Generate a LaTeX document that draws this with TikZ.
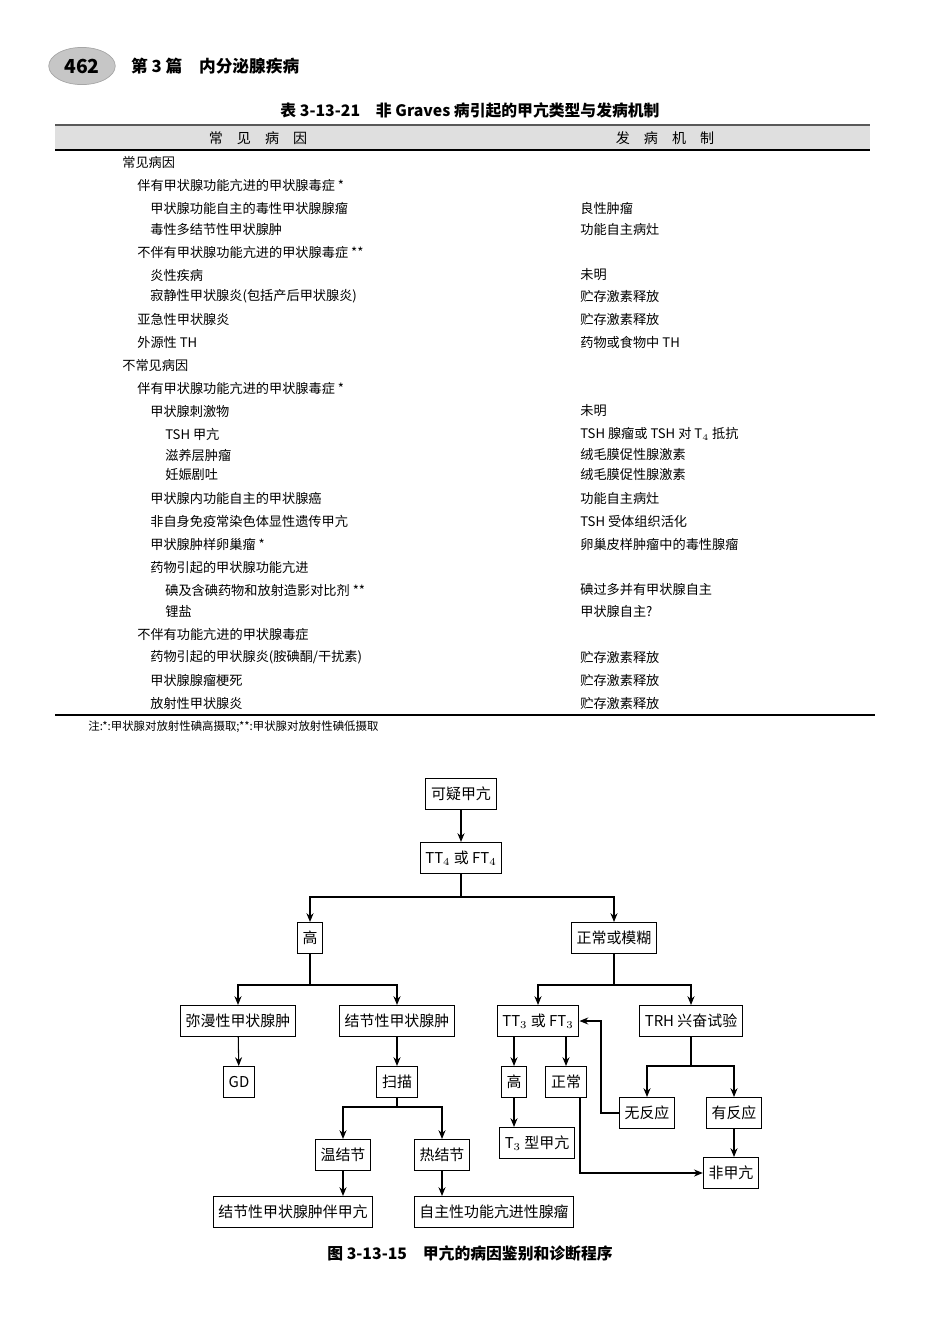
\documentclass[tikz,border=0pt]{standalone}
\usepackage{fontspec}
\setmainfont{Noto Sans CJK SC}
\usetikzlibrary{positioning,arrows.meta,shapes.geometric}
\begin{document}
\begin{tikzpicture}[x=0.02cm,y=-0.02cm,
    flow/.style={rectangle, draw, line width=0.6pt, minimum height=0.62cm, inner sep=3pt, font=\fontsize{8.5}{10}\selectfont},
    arrow/.style={-{Stealth[length=5pt,width=4pt]}, line width=0.6pt},
    cell/.style={anchor=west, inner sep=0pt, font=\fontsize{7.5}{9}\selectfont}
]
\useasboundingbox (0,0) rectangle (950,1336);

% page header
\node[ellipse, fill=gray!45, draw=gray!70, minimum width=1.3cm, minimum height=0.48cm, font=\bfseries\fontsize{11}{12}\selectfont] (page) at (82,66) {462};
\node[anchor=west, font=\bfseries\fontsize{9.5}{11}\selectfont] (part) at (125,66) {第 3 篇\quad 内分泌腺疾病};

% table
\node[font=\bfseries\fontsize{9}{11}\selectfont] (ttl) at (470,110) {表 3-13-21\quad 非 Graves 病引起的甲亢类型与发病机制};
\fill[gray!25] (55,125) rectangle (870,150);
\draw[line width=1.4pt, gray!70!black] (55,125) -- (870,125);
\draw[line width=0.6pt] (55,150) -- (870,150);
\node[font=\fontsize{8}{9}\selectfont] (h1) at (258,138) {常\quad 见\quad 病\quad 因};
\node[font=\fontsize{8}{9}\selectfont] (h2) at (665,138) {发\quad 病\quad 机\quad 制};
\foreach \y/\x/\a/\b in {
  162/122/常见病因/,
  185/137/伴有甲状腺功能亢进的甲状腺毒症 */,
  208/150/甲状腺功能自主的毒性甲状腺腺瘤/良性肿瘤,
  229/150/毒性多结节性甲状腺肿/功能自主病灶,
  252/137/不伴有甲状腺功能亢进的甲状腺毒症 **/,
  275/150/炎性疾病/未明,
  296/150/寂静性甲状腺炎(包括产后甲状腺炎)/贮存激素释放,
  319/137/亚急性甲状腺炎/贮存激素释放,
  342/137/外源性 TH/药物或食物中 TH,
  365/122/不常见病因/,
  388/137/伴有甲状腺功能亢进的甲状腺毒症 */,
  411/150/甲状腺刺激物/未明,
  434/165/TSH 甲亢/TSH 腺瘤或 TSH 对 T$_4$ 抵抗,
  455/165/滋养层肿瘤/绒毛膜促性腺激素,
  475/165/妊娠剧吐/绒毛膜促性腺激素,
  498/150/甲状腺内功能自主的甲状腺癌/功能自主病灶,
  521/150/非自身免疫常染色体显性遗传甲亢/TSH 受体组织活化,
  544/150/甲状腺肿样卵巢瘤 */卵巢皮样肿瘤中的毒性腺瘤,
  567/150/药物引起的甲状腺功能亢进/,
  590/165/碘及含碘药物和放射造影对比剂 **/碘过多并有甲状腺自主,
  611/165/锂盐/甲状腺自主?,
  634/137/不伴有功能亢进的甲状腺毒症/,
  657/150/{药物引起的甲状腺炎(胺碘酮/干扰素)}/贮存激素释放,
  680/150/甲状腺腺瘤梗死/贮存激素释放,
  703/150/放射性甲状腺炎/贮存激素释放}
{
  \node[cell] (l\y) at (\x,\y) {\a};
  \node[cell] (r\y) at (580,\y) {\b};
}
\draw[line width=0.9pt] (55,715) -- (875,715);
\node[cell, font=\fontsize{6.5}{8}\selectfont] (note) at (88,727) {注:*:甲状腺对放射性碘高摄取;**:甲状腺对放射性碘低摄取};

% flowchart
\node[flow] (susp) at (461,794) {可疑甲亢};
\node[flow] (t4) at (461,858) {TT$_4$ 或 FT$_4$};
\node[flow] (high) at (310,938) {高};
\node[flow] (norm) at (614,938) {正常或模糊};
\node[flow] (diff) at (238,1021) {弥漫性甲状腺肿};
\node[flow] (nod) at (397,1021) {结节性甲状腺肿};
\node[flow] (t3) at (538,1021) {TT$_3$ 或 FT$_3$};
\node[flow] (trh) at (691,1021) {TRH 兴奋试验};
\node[flow] (gd) at (239,1082) {GD};
\node[flow] (scan) at (397,1082) {扫描};
\node[flow] (t3hi) at (514,1082) {高};
\node[flow] (t3no) at (566,1082) {正常};
\node[flow] (warm) at (343,1155) {温结节};
\node[flow] (hot) at (442,1155) {热结节};
\node[flow] (nores) at (647,1113) {无反应};
\node[flow] (res) at (734,1113) {有反应};
\node[flow] (t3type) at (537,1143) {T$_3$ 型甲亢};
\node[flow] (nonhyp) at (731,1173) {非甲亢};
\node[flow] (mng) at (293,1212) {结节性甲状腺肿伴甲亢};
\node[flow] (aden) at (494,1212) {自主性功能亢进性腺瘤};

\draw[arrow] (susp) -- (t4);
\draw[line width=0.6pt] (t4.south) -- (461,897);
\draw[arrow] (461,897) -| (high);
\draw[arrow] (461,897) -| (norm);
\draw[line width=0.6pt] (high.south) -- (310,985);
\draw[arrow] (310,985) -| (diff);
\draw[arrow] (310,985) -| (nod);
\draw[line width=0.6pt] (norm.south) -- (614,985);
\draw[arrow] (614,985) -| (t3);
\draw[arrow] (614,985) -| (trh);
\draw[arrow] (diff) -- (gd);
\draw[arrow] (nod) -- (scan);
\draw[line width=0.6pt] (scan.south) -- (397,1107);
\draw[arrow] (397,1107) -| (warm);
\draw[arrow] (397,1107) -| (hot);
\draw[arrow] (warm) -- (warm|-mng.north);
\draw[arrow] (hot) -- (hot|-aden.north);
\draw[arrow] (t3hi|-t3.south) -- (t3hi);
\draw[arrow] (t3no|-t3.south) -- (t3no);
\draw[arrow] (t3hi) -- (t3hi|-t3type.north);
\draw[line width=0.6pt] (trh.south) -- (691,1066);
\draw[arrow] (691,1066) -| (nores);
\draw[arrow] (691,1066) -| (res);
\draw[arrow] (res) -- (res|-nonhyp.north);
\draw[arrow] (nores.west) -| (601,1021) -- (t3.east);
\draw[arrow] (580,1097) |- (nonhyp.west);

\node[font=\bfseries\fontsize{9}{11}\selectfont] (cap) at (470,1253) {图 3-13-15\quad 甲亢的病因鉴别和诊断程序};
\end{tikzpicture}
\end{document}
